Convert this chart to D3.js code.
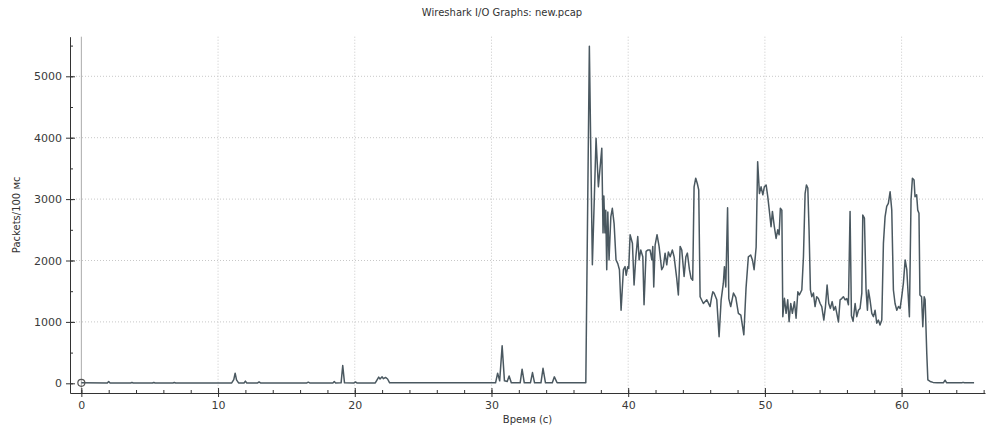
<!DOCTYPE html>
<html>
<head>
<meta charset="utf-8">
<script src="https://cdn.jsdelivr.net/npm/d3@7"></script>
<style>
  body { margin: 0; background: #fff; }
  text { font-family: "DejaVu Sans", Verdana, sans-serif; }
</style>
</head>
<body>
<svg id="chart" width="1004" height="430"></svg>
<script>
// chart texts
const titleText = "Wireshark I/O Graphs: new.pcap";
const xLabel = "Время (с)";
const yLabel = "Packets/100 мс";

// tick values
const xTicks = [0, 10, 20, 30, 40, 50, 60];
const yTicks = [0, 1000, 2000, 3000, 4000, 5000];

// time (s) and packets per 100 ms
const times = [
  0, 1.9, 2.0, 2.1, 3.6, 3.7, 3.8, 5.2, 5.3, 5.4, 6.7, 6.8, 6.9,
  11.0, 11.15, 11.25, 11.35, 11.5, 11.9, 12.0, 12.1, 12.9, 13.0, 13.1,
  16.5, 16.6, 16.7, 18.4, 18.5, 18.6, 19.0, 19.12, 19.25, 19.95, 20.05, 20.15,
  21.5, 21.6, 21.75, 21.85, 22.0, 22.1, 22.25, 22.4, 22.55,
  30.3, 30.45, 30.6, 30.78, 30.95, 31.15, 31.29, 31.45, 32.1, 32.24, 32.4,
  32.85, 33.0, 33.15, 33.62, 33.77, 33.95, 34.45, 34.6, 34.8, 36.9,
  37.16, 37.38, 37.65, 37.82, 38.07, 38.16, 38.22, 38.3, 38.36, 38.43, 38.51, 38.6,
  38.73, 38.84, 38.97, 39.11, 39.24, 39.36, 39.48, 39.65, 39.77, 39.85, 39.97, 40.04,
  40.14, 40.31, 40.43, 40.56, 40.7, 40.8, 40.92, 41.07, 41.16, 41.31, 41.43, 41.6,
  41.73, 41.8, 41.87, 41.97, 42.11, 42.26, 42.45, 42.57, 42.7, 42.82, 42.94, 43.07,
  43.23, 43.36, 43.55, 43.67, 43.8, 43.92, 44.09, 44.22, 44.33, 44.48, 44.6, 44.72,
  44.82, 44.94, 45.06, 45.16, 45.26, 45.5, 45.75, 45.99, 46.11, 46.19, 46.28, 46.48,
  46.65, 46.8, 46.96, 47.04, 47.14, 47.27, 47.36, 47.5, 47.7, 47.87, 48.06, 48.24,
  48.46, 48.62, 48.79, 48.96, 49.09, 49.21, 49.36, 49.47, 49.6, 49.72, 49.85, 49.96,
  50.09, 50.21, 50.33, 50.45, 50.55, 50.69, 50.82, 50.94, 51.04, 51.13, 51.24, 51.31,
  51.43, 51.55, 51.67, 51.77, 51.89, 52.01, 52.16, 52.28, 52.41, 52.52, 52.7, 52.82,
  52.94, 53.04, 53.14, 53.23, 53.33, 53.43, 53.55, 53.67, 53.79, 53.91, 54.04, 54.16,
  54.31, 54.43, 54.55, 54.67, 54.79, 54.92, 55.04, 55.16, 55.26, 55.38, 55.5, 55.62,
  55.74, 55.87, 55.99, 56.11, 56.23, 56.33, 56.45, 56.6, 56.72, 56.84, 56.96, 57.09,
  57.16, 57.28, 57.4, 57.5, 57.57, 57.69, 57.82, 57.94, 58.06, 58.18, 58.3, 58.42,
  58.55, 58.67, 58.79, 58.91, 59.03, 59.16, 59.28, 59.4, 59.52, 59.65, 59.77, 59.89,
  60.01, 60.13, 60.26, 60.38, 60.5, 60.57, 60.69, 60.79, 60.91, 60.98, 61.1, 61.18,
  61.27, 61.34, 61.46, 61.55, 61.65, 61.72, 61.84, 61.92, 62.09, 62.3, 62.6, 63.05,
  63.18, 63.3, 64.4, 64.5, 64.6, 65.3
];
const packets = [
  8, 5, 28, 5, 6, 14, 5, 5, 14, 5, 5, 14, 5,
  6, 60, 165, 55, 6, 5, 35, 6, 6, 22, 6,
  6, 18, 6, 6, 28, 6, 8, 290, 8, 6, 22, 6,
  6, 45, 100, 70, 105, 75, 95, 70, 8,
  8, 165, 40, 610, 40, 30, 120, 8, 8, 230, 8,
  8, 175, 8, 8, 245, 8, 8, 105, 8, 10,
  5490, 1930, 3990, 3200, 3830, 2450, 3050, 2450, 2820, 1850, 2790, 2010,
  2710, 2850, 2600, 2010, 1950, 1850, 1190, 1850, 1900, 1760, 1900, 1870,
  2420, 2280, 1600, 2060, 2390, 2010, 2170, 2060, 1280, 2150, 2170, 2170,
  2010, 2230, 1570, 2250, 2420, 2230, 1850, 1900, 2120, 1930, 2140, 2060,
  2170, 2060, 1710, 1440, 2230, 2170, 1740, 2060, 2120, 1850, 1710, 1680,
  3200, 3340, 3250, 3150, 1410, 1300, 1360, 1250, 1410, 1490, 1470, 1360,
  760, 1360, 1630, 1900, 1570, 2860, 1380, 1250, 1470, 1400, 1140, 1110,
  790, 1550, 2060, 2090, 2010, 1850, 2220, 3610, 3090, 3200, 3070, 3200,
  3230, 3040, 2800, 2550, 2800, 2550, 2360, 2500, 2420, 2850, 2820, 1085,
  1385, 1140, 1360, 1003, 1300, 1140, 1330, 1060, 1490, 1440, 1520, 2060,
  3090, 3230, 3180, 2500, 1520, 1410, 1470, 1250, 1410, 1380, 1300, 1250,
  1030, 1250, 1600, 1300, 1220, 1330, 1190, 1250, 1140, 1000, 1360, 1380,
  1410, 1360, 1380, 1280, 2800, 1100, 1010, 1300, 1085, 1190, 1220, 1470,
  2740, 2690, 1520, 1190, 1520, 1360, 1140, 1085, 1190, 980, 1030, 950,
  1030, 2280, 2710, 2880, 2930, 3120, 2820, 1520, 1300, 1190, 1250, 1220,
  1410, 1630, 2010, 1850, 1360, 1085, 2990, 3340, 3310, 3040, 3070, 2820,
  2770, 1440, 1410, 920, 1410, 1360, 490, 55, 30, 15, 10, 8,
  50, 8, 8, 15, 8, 8
];

const svg = d3.select("#chart");
const plotLeft = 70, plotRight = 985, plotTop = 36.7, plotBottom = 393;

const x = d3.scaleLinear().domain([-0.83, 66.1]).range([plotLeft, plotRight]);
const y = d3.scaleLinear().domain([-158, 5645]).range([plotBottom, plotTop]);

// title
svg.append("text")
    .attr("x", 502).attr("y", 16)
    .attr("text-anchor", "middle")
    .attr("font-size", 10)
    .attr("fill", "#333")
    .text(titleText);

// grid lines (the zero line on x is solid)
const grid = svg.append("g");
grid.selectAll(".gx")
    .data(xTicks)
    .join("line")
    .attr("x1", d => x(d)).attr("x2", d => x(d))
    .attr("y1", plotTop).attr("y2", plotBottom)
    .attr("stroke", d => d == 0 ? "#aaa" : "#c8c8c8")
    .attr("stroke-dasharray", d => d == 0 ? null : "1,2");
grid.selectAll(".gy")
    .data(yTicks.filter(d => d != 0))
    .join("line")
    .attr("x1", plotLeft).attr("x2", plotRight)
    .attr("y1", d => y(d)).attr("y2", d => y(d))
    .attr("stroke", "#c8c8c8")
    .attr("stroke-dasharray", "1,2");

// data line
const line = d3.line()
    .x((d, i) => x(times[i]))
    .y(d => y(d));

svg.append("path")
    .datum(packets)
    .attr("fill", "none")
    .attr("stroke", "#4a5860")
    .attr("stroke-width", 1.5)
    .attr("stroke-linejoin", "round")
    .attr("d", line);

// marker at the first point
svg.append("circle")
    .attr("cx", x(times[0])).attr("cy", y(packets[0]))
    .attr("r", 3.5)
    .attr("fill", "none")
    .attr("stroke", "#555")
    .attr("stroke-width", 1.2);

// axes: major ticks cross the axis, minor ticks point inward
const xMinor = d3.range(0, 67, 2);
const yMinor = d3.range(0, 5600, 500);
const fmt = d3.format("d");

function styleAxis(g) {
    g.select(".domain").attr("stroke", "#333");
    g.selectAll(".tick line").attr("stroke", "#333");
    g.selectAll(".tick text").attr("fill", "#3a3a3a")
        .attr("font-family", "DejaVu Sans, sans-serif").attr("font-size", 11);
}

svg.append("g")
    .attr("transform", `translate(0,${plotBottom})`)
    .call(d3.axisBottom(x).tickValues(xMinor).tickSize(-3).tickFormat("").tickSizeOuter(0))
    .call(styleAxis);
svg.append("g")
    .attr("transform", `translate(0,${plotBottom})`)
    .call(d3.axisBottom(x).tickValues(xTicks).tickSize(-5).tickFormat("").tickSizeOuter(0))
    .call(g => g.select(".domain").remove())
    .call(styleAxis);
svg.append("g")
    .attr("transform", `translate(0,${plotBottom})`)
    .call(d3.axisBottom(x).tickValues(xTicks).tickSize(4).tickPadding(4).tickFormat(fmt).tickSizeOuter(0))
    .call(g => g.select(".domain").remove())
    .call(styleAxis);

svg.append("g")
    .attr("transform", `translate(${plotLeft},0)`)
    .call(d3.axisLeft(y).tickValues(yMinor).tickSize(-3).tickFormat("").tickSizeOuter(0))
    .call(styleAxis);
svg.append("g")
    .attr("transform", `translate(${plotLeft},0)`)
    .call(d3.axisLeft(y).tickValues(yTicks).tickSize(-5).tickFormat("").tickSizeOuter(0))
    .call(g => g.select(".domain").remove())
    .call(styleAxis);
svg.append("g")
    .attr("transform", `translate(${plotLeft},0)`)
    .call(d3.axisLeft(y).tickValues(yTicks).tickSize(4).tickPadding(4).tickFormat(fmt).tickSizeOuter(0))
    .call(g => g.select(".domain").remove())
    .call(styleAxis);

// axis labels
svg.append("text")
    .attr("x", (plotLeft + plotRight) / 2).attr("y", 423)
    .attr("text-anchor", "middle")
    .attr("font-size", 10)
    .attr("fill", "#333")
    .text(xLabel);

svg.append("text")
    .attr("transform", `translate(20,${(plotTop + plotBottom) / 2}) rotate(-90)`)
    .attr("text-anchor", "middle")
    .attr("font-size", 10)
    .attr("fill", "#333")
    .text(yLabel);
</script>
</body>
</html>
